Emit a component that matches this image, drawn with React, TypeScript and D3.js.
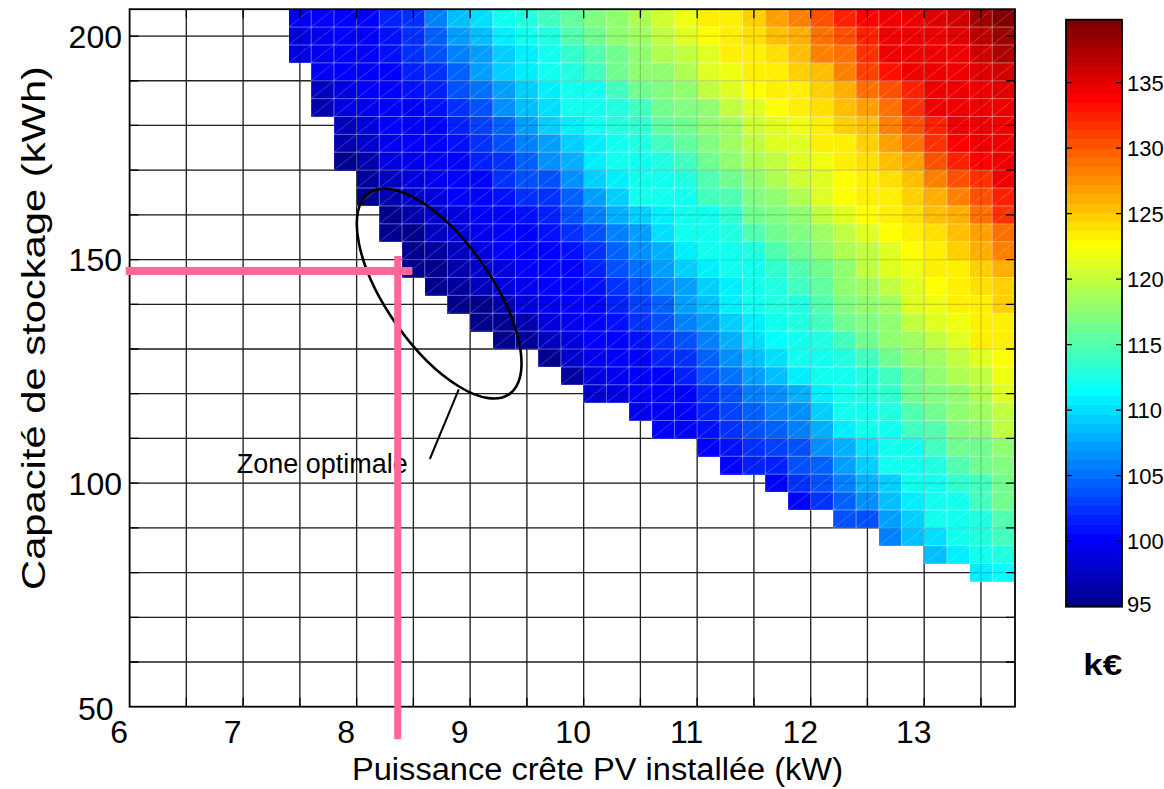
import React from "react";
import * as d3 from "d3";

const W = 1164;
const H = 789;

// PV peak power cell edges (kW) and storage capacity cell edges (kWh, top to bottom)
const pvEdges = [7.4, 7.6, 7.8, 8.0, 8.2, 8.4, 8.6, 8.8, 9.0, 9.2, 9.4, 9.6, 9.8, 10.0, 10.2, 10.4, 10.6, 10.8, 11.0, 11.2, 11.4, 11.6, 11.8, 12.0, 12.2, 12.4, 12.6, 12.8, 13.0, 13.2, 13.4, 13.6, 13.8];
const storageEdges = [206, 202, 198, 194, 190, 186, 182, 178, 174, 170, 166, 162, 158, 154, 150, 146, 142, 138, 134, 130, 126, 122, 118, 114, 110, 106, 102, 98, 94, 90, 86, 82, 78];

const _ = null;
// Cost (k€), one row per storage band (top = 202-206 kWh), one column per PV band
const cost: (number | null)[][] = [
  [99.5, 100, 100.5, 100.5, 101.5, 102.5, 105.5, 108.5, 110, 112, 112.5, 114, 115.5, 117, 118, 119, 120.5, 122, 123, 123.5, 125, 127, 128, 130.5, 132.5, 133.5, 134.5, 134.8, 135, 136, 138, 139.8],
  [99, 99.5, 100.5, 100.5, 101, 102.5, 104.5, 107, 108.5, 110.5, 112, 113, 115, 116.5, 117.5, 118.5, 119.5, 121, 122.5, 123.5, 124, 125.5, 126.5, 129, 130.5, 132.5, 134.5, 134.5, 134.8, 135.5, 136.5, 138],
  [98.5, 99.5, 100, 100.5, 100.8, 102, 103.5, 105.5, 107.5, 109.5, 111, 112, 113.5, 115, 116.5, 117.5, 119, 120, 121.5, 123, 123.5, 124, 125.5, 128, 129, 132, 134.5, 134.5, 134.5, 134.6, 136, 137],
  [_, 99.5, 100, 100.5, 100.5, 101.5, 102.5, 104.5, 107, 109, 110.5, 112, 112.5, 114.5, 116, 117.5, 118, 119, 121, 122, 123, 123.5, 124.5, 125.5, 128, 131, 133, 134.5, 134.5, 134.6, 135.5, 136],
  [_, 97.5, 99, 100, 100.5, 100.8, 101.5, 103.5, 105, 107, 109, 111, 112, 112, 114.5, 116, 117, 118, 119.5, 121, 122.5, 123, 123.5, 124.5, 126.5, 129, 130.5, 132.5, 134.5, 134.5, 134.6, 135],
  [_, 97, 98.5, 99.5, 100.5, 100.5, 101, 102.5, 104, 106.5, 108.5, 110, 112, 112, 113, 114.5, 116, 117, 118, 119.5, 121.5, 122.5, 123, 124, 125.5, 127, 129, 131.5, 134.5, 134.5, 134.5, 134.5],
  [_, _, 97.5, 99, 100, 100.5, 100.5, 101.5, 103, 104.5, 107, 109, 111, 112, 112.5, 113.5, 115.5, 116, 117.5, 118.5, 120.5, 121.5, 122, 123, 124.5, 125.5, 128, 130.5, 132.5, 134.5, 134.5, 134.5],
  [_, _, 96.5, 98, 99.5, 100, 100.5, 100.8, 102, 104, 105.5, 107, 109.5, 111, 112, 112.5, 114, 115.5, 117, 118.5, 120, 121, 121.5, 123, 123.5, 125, 127, 129, 131.5, 133.5, 134.5, 134.5],
  [_, _, 95, 97, 98.5, 99.5, 100, 100.5, 101.5, 102.5, 104.5, 106.5, 108, 110.5, 112, 112, 113, 114.5, 116, 117.5, 119, 120, 121.5, 122, 123, 124, 125.5, 127, 130, 132.5, 133.5, 134.5],
  [_, _, _, 96, 97.5, 98.5, 99.5, 100.5, 100.5, 102, 103.5, 104, 106.5, 109, 110.5, 112, 112, 113, 115, 116, 117.5, 119, 120.5, 121.5, 122.5, 123.5, 124, 125.5, 128, 130, 132, 134.5],
  [_, _, _, 95.5, 97, 98, 99, 100, 100.5, 101, 102, 102.5, 104.5, 107, 109.5, 112, 112, 112, 114, 115, 117, 118, 119, 121, 122.5, 123.5, 123.5, 125, 126.5, 128, 130, 132.5],
  [_, _, _, _, 95, 97, 98, 99, 100, 100.5, 101.2, 101.5, 103.5, 105.5, 108, 109, 111, 112, 112, 113.5, 116, 117.2, 118, 120, 121.5, 122.5, 123.5, 124, 125.5, 126.5, 129, 131.5],
  [_, _, _, _, 95, 95.5, 97.5, 98.5, 99.5, 100.5, 100.5, 100.8, 102, 104, 106, 107.5, 110, 112, 112, 113, 115, 116, 117, 118.5, 119.5, 121.5, 122.5, 123.5, 124, 125.5, 127, 129],
  [_, _, _, _, _, 95, 96, 97.5, 98.5, 100, 100.3, 100.5, 101, 102.5, 104.5, 106.5, 108, 110.5, 112, 112, 113, 114.8, 116, 117.5, 119, 120, 121.5, 122.5, 123.5, 124.5, 126, 128.5],
  [_, _, _, _, _, 95, 95.5, 96.5, 98, 99, 100, 100.5, 100.5, 101.5, 103.5, 105, 107, 109.5, 111, 112, 112, 113.7, 115, 116.5, 118, 119.5, 121, 122, 123, 123.5, 124.5, 126],
  [_, _, _, _, _, _, 95, 96, 97.5, 98.5, 99.3, 100, 100.5, 100.8, 102, 104, 105.5, 107.5, 109.5, 111, 112, 113, 114, 115.5, 117.5, 118.5, 119.5, 121.5, 122.5, 123.5, 123.8, 125],
  [_, _, _, _, _, _, _, 95, 95.5, 96.5, 98.5, 99.7, 100.5, 100.5, 101.5, 103, 104.5, 107, 108.5, 110.5, 112, 112.5, 113, 115, 117, 118, 118.5, 121, 122, 123, 123.5, 125],
  [_, _, _, _, _, _, _, _, 95, 95.5, 97, 98.5, 99.5, 100.5, 100.8, 102, 104, 105.5, 107.5, 109, 111, 112, 112.5, 114, 116, 117, 118, 119.5, 121, 122, 123, 123.5],
  [_, _, _, _, _, _, _, _, _, 95.3, 96, 97.5, 99, 100, 100.5, 101, 102.5, 104, 106, 108, 110, 111.5, 112, 113, 114, 116, 117.5, 118.5, 119.5, 121, 123, 123],
  [_, _, _, _, _, _, _, _, _, _, _, 95.5, 98, 99.5, 100.5, 100.5, 101.5, 102.5, 104.5, 106.5, 108.5, 110, 112, 112, 113, 114.5, 116, 117.5, 118.5, 120, 121.5, 122.5],
  [_, _, _, _, _, _, _, _, _, _, _, _, 96, 98.5, 99.5, 100.5, 100.5, 101.5, 103.5, 105, 107, 108.5, 110.5, 112, 112, 113, 114.5, 116, 117.5, 119, 120, 122],
  [_, _, _, _, _, _, _, _, _, _, _, _, _, 98, 99, 100, 100.5, 100.5, 102, 104, 105.5, 106.8, 108, 111, 112, 112.5, 113.5, 116, 117, 118, 119, 121],
  [_, _, _, _, _, _, _, _, _, _, _, _, _, _, _, 99.5, 100.5, 100.5, 101.5, 103, 104.5, 105.5, 106.5, 109, 112, 112, 113, 115, 116, 117.5, 118.5, 120],
  [_, _, _, _, _, _, _, _, _, _, _, _, _, _, _, _, 100, 100.5, 100.8, 102, 103.5, 104.5, 105.5, 108, 111, 112, 112, 114, 115, 117, 118, 119.5],
  [_, _, _, _, _, _, _, _, _, _, _, _, _, _, _, _, _, _, 100, 101, 102, 103, 104, 106.5, 108, 110, 112, 112, 114, 116, 116.5, 118],
  [_, _, _, _, _, _, _, _, _, _, _, _, _, _, _, _, _, _, _, 100.5, 101.5, 101.5, 103.5, 104.5, 107, 109.5, 112, 112, 113, 115, 116, 117],
  [_, _, _, _, _, _, _, _, _, _, _, _, _, _, _, _, _, _, _, _, _, 100.5, 102.5, 103.5, 106, 108, 109.5, 112, 112, 113.5, 114.5, 116],
  [_, _, _, _, _, _, _, _, _, _, _, _, _, _, _, _, _, _, _, _, _, _, 100.5, 102, 104.5, 106.5, 108.5, 111, 112, 112, 114, 116],
  [_, _, _, _, _, _, _, _, _, _, _, _, _, _, _, _, _, _, _, _, _, _, _, _, 103.5, 104, 107, 109.5, 112, 112, 113, 115],
  [_, _, _, _, _, _, _, _, _, _, _, _, _, _, _, _, _, _, _, _, _, _, _, _, _, _, 105.5, 108.5, 110, 112, 112.5, 114],
  [_, _, _, _, _, _, _, _, _, _, _, _, _, _, _, _, _, _, _, _, _, _, _, _, _, _, _, _, 108.5, 111, 112, 112.5],
  [_, _, _, _, _, _, _, _, _, _, _, _, _, _, _, _, _, _, _, _, _, _, _, _, _, _, _, _, _, _, 111, 111.5],
];

const xTickLabels = [6, 7, 8, 9, 10, 11, 12, 13];
const xGrid = [6.5, 7, 7.5, 8, 8.5, 9, 9.5, 10, 10.5, 11, 11.5, 12, 12.5, 13, 13.5];
const yTickLabels = [50, 100, 150, 200];
const yGrid = [60, 70, 80, 90, 100, 110, 120, 130, 140, 150, 160, 170, 180, 190, 200];
const cbTicks = [95, 100, 105, 110, 115, 120, 125, 130, 135];
const costRange = [95, 139.8];

// optimum point and annotation (data coordinates)
const optimum = { pv: 8.362, storage: 147.45 };
const zoneCenter = { pv: 8.727, storage: 142.4 };
const zoneLabelAnchor = { pv: 6.945, storage: 50 + (706.7 - 472.7) / 4.471 };

function jet(i: number): string {
  const r = i < 24 ? 0 : i < 40 ? (i - 23) / 16 : i < 56 ? 1 : 1 - (i - 55) / 16;
  const g = i < 8 ? 0 : i < 24 ? (i - 7) / 16 : i < 40 ? 1 : i < 55 ? 1 - (i - 39) / 16 : 0;
  const b = i < 8 ? (i + 9) / 16 : i < 24 ? 1 : i < 39 ? 1 - (i - 23) / 16 : 0;
  return d3.rgb(r * 255, g * 255, b * 255).formatHex();
}
const jetColors = d3.range(64).map(jet);

export default function App() {
  const x = d3.scaleLinear().domain([6, 13.8]).range([129.6, 1015]);
  const y = d3.scaleLinear().domain([50, 206]).range([706.7, 9.2]);
  const color = d3.scaleQuantize<string>().domain(costRange).range(jetColors);
  const cb = d3.scaleLinear().domain(costRange).range([606.7, 19.7]);
  const cbX0 = 1066;
  const cbX1 = 1122;

  const font = "'Liberation Sans', Arial, Helvetica, sans-serif";
  const x0 = x.range()[0];
  const x1 = x.range()[1];
  const yTop = y(206);
  const yBot = y(50);

  const cells: React.ReactNode[] = [];
  const mesh: string[] = [];
  cost.forEach((row, r) => {
    row.forEach((v, c) => {
      if (v === null) return;
      const xa = x(pvEdges[c]);
      const xb = x(pvEdges[c + 1]);
      const ya = y(storageEdges[r]);
      const yb = y(storageEdges[r + 1]);
      cells.push(
        <rect key={`c${r}-${c}`} x={xa} y={ya} width={xb - xa + 0.4} height={yb - ya + 0.4} fill={color(v)} />
      );
      mesh.push(`M${xa},${yb}L${xa},${ya}L${xb},${ya}L${xb},${yb}Z M${xa},${yb}L${xb},${ya}`);
    });
  });

  const gridPath =
    xGrid.map((v) => `M${x(v)},${yTop}L${x(v)},${yBot}`).join("") +
    yGrid.map((v) => `M${x0},${y(v)}L${x1},${y(v)}`).join("");
  const tickLen = 9;
  const tickPath =
    xGrid.map((v) => `M${x(v)},${yBot}L${x(v)},${yBot - tickLen}M${x(v)},${yTop}L${x(v)},${yTop + tickLen}`).join("") +
    yGrid.map((v) => `M${x0},${y(v)}L${x0 + tickLen},${y(v)}M${x1},${y(v)}L${x1 - tickLen},${y(v)}`).join("");

  const bandH = (cb.range()[0] - cb.range()[1]) / 64;

  const pink = "#ff6699";
  const ox = x(optimum.pv);
  const oy = y(optimum.storage);

  return (
    <svg width={W} height={H} style={{ position: "absolute", left: 0, top: 0, display: "block", background: "#fff" }} fontFamily={font}>
      <rect x={0} y={0} width={W} height={H} fill="#fff" />
      {/* grid under heatmap */}
      <path d={gridPath} stroke="#2a2a2a" strokeWidth={1.3} fill="none" />
      {/* heatmap */}
      <g shapeRendering="crispEdges">{cells}</g>
      <path d={mesh.join("")} stroke="#ffffff" strokeOpacity={0.28} strokeWidth={0.8} fill="none" />
      {/* faint grid over heatmap */}
      <path d={gridPath} stroke="#000" strokeOpacity={0.18} strokeWidth={1.2} fill="none" />
      {/* box + ticks */}
      <path d={tickPath} stroke="#000" strokeWidth={1.3} fill="none" />
      <rect x={x0} y={yTop} width={x1 - x0} height={yBot - yTop} fill="none" stroke="#000" strokeWidth={1.8} />

      {/* zone optimale ellipse + leader */}
      <ellipse
        cx={0}
        cy={0}
        rx={122.6}
        ry={52.7}
        transform={`translate(${x(zoneCenter.pv)},${y(zoneCenter.storage)}) rotate(55.1)`}
        fill="none"
        stroke="#000"
        strokeWidth={2.6}
      />
      <line x1={x(8.9)} y1={y(50 + (706.7 - 389.5) / 4.471)} x2={x(8.645)} y2={y(50 + (706.7 - 459) / 4.471)} stroke="#000" strokeWidth={2} />
      <text x={x(zoneLabelAnchor.pv)} y={y(zoneLabelAnchor.storage)} textAnchor="start" fontSize={27} textLength={171} lengthAdjust="spacingAndGlyphs" fill="#000">
        Zone optimale
      </text>

      {/* optimum cross */}
      <line x1={x(5.966)} x2={x(8.491)} y1={oy} y2={oy} stroke={pink} strokeWidth={8} />
      <line x1={ox} x2={ox} y1={y(150.8)} y2={y(42.7)} stroke={pink} strokeWidth={7} />

      {/* x tick labels */}
      {xTickLabels.map((v) => (
        <text key={`xl${v}`} x={x(v) - 10.5} y={742.7} textAnchor="middle" fontSize={32} fill="#000">
          {v}
        </text>
      ))}
      {/* y tick labels */}
      {yTickLabels.map((v) => (
        <text key={`yl${v}`} x={v === 50 ? 113.5 : 122} y={y(v) + (v === 50 ? 12.8 : 11.5)} textAnchor="end" fontSize={32} fill="#000">
          {v}
        </text>
      ))}
      {/* axis titles */}
      <text x={597.5} y={780} textAnchor="middle" fontSize={31} textLength={491} lengthAdjust="spacingAndGlyphs" fill="#000">
        Puissance crête PV installée (kW)
      </text>
      <text transform={`translate(44.5,328) rotate(-90)`} textAnchor="middle" fontSize={33} textLength={524} lengthAdjust="spacingAndGlyphs" fill="#000">
        Capacité de stockage (kWh)
      </text>

      {/* colorbar */}
      <g shapeRendering="crispEdges">
        {jetColors.map((c, i) => (
          <rect key={`cb${i}`} x={cbX0} width={cbX1 - cbX0} y={cb.range()[0] - (i + 1) * bandH} height={bandH + 0.5} fill={c} />
        ))}
      </g>
      <path
        d={cbTicks
          .filter((t) => t > 95)
          .map((t) => `M${cbX0},${cb(t)}L${cbX0 + 6},${cb(t)}M${cbX1},${cb(t)}L${cbX1 - 6},${cb(t)}`)
          .join("")}
        stroke="#000"
        strokeWidth={1.3}
      />
      <rect x={cbX0} y={cb.range()[1]} width={cbX1 - cbX0} height={cb.range()[0] - cb.range()[1]} fill="none" stroke="#000" strokeWidth={1.8} />
      {cbTicks.map((t) => (
        <text key={`cbl${t}`} x={1127} y={(t === 95 ? cb(t) - 2.7 : cb(t)) + 8} fontSize={22} fill="#000">
          {t}
        </text>
      ))}
      <text x={1102.7} y={675} textAnchor="middle" fontSize={30} fontWeight="bold" textLength={39} lengthAdjust="spacingAndGlyphs" fill="#000">
        k€
      </text>
    </svg>
  );
}
